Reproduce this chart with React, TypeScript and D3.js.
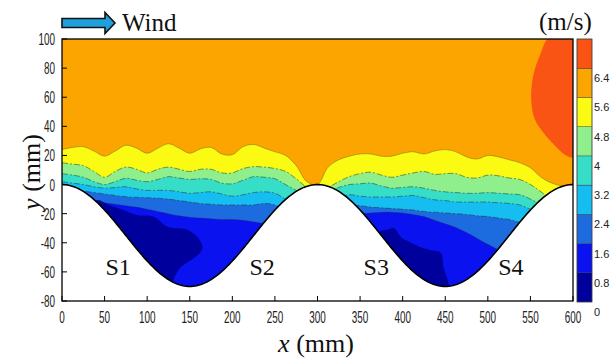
import React from 'react';
import * as d3 from 'd3';

// ---------- data ----------
const X_GRID = [0, 12.5, 25, 37.5, 50, 62.5, 75, 87.5, 100, 112.5, 125, 137.5, 150, 162.5, 175, 187.5, 200, 212.5, 225, 237.5, 250, 262.5, 275, 287.5, 300,
  312.5, 325, 337.5, 350, 362.5, 375, 387.5, 400, 412.5, 425, 437.5, 450, 462.5, 475, 487.5, 500, 512.5, 525, 537.5, 550, 562.5, 575, 587.5, 600];

// contour boundary heights (mm) at X_GRID for each speed level (m/s)
const LEVEL_5_6 = [24, 25.5, 26, 23, 19.5, 23, 27, 25, 21.5, 25, 28, 25, 21.5, 24.5, 25.5, 21, 20.5, 26, 27.5, 25, 22.5, 20, 13, 2, 0,
  12, 17, 19.5, 21, 21, 19.5, 19.5, 21.5, 22.5, 21, 23, 24, 22.5, 19, 17.5, 20, 19, 17, 15, 11.5, 5, 1, -1, -1];
const LEVEL_4_8 = [15, 14, 13, 9, 5, 9, 12, 10.5, 8, 10.5, 12, 10.5, 9, 10.5, 10.5, 8, 8, 11, 12.3, 12, 11, 9, 4, -2, -5,
  -2, 2, 5.5, 7.5, 8.5, 6.5, 5, 6.5, 8, 9, 7, 7.5, 7.5, 5, 4.5, 6.5, 6, 4.5, 3.5, 0, -5, -10, -10, -10];
const LEVEL_4_0 = [7.5, 6.5, 5, 2, 0, 2, 4.3, 3, 2, 3.5, 5.4, 4.5, 3.5, 4, 3.5, 1, 0.5, 3, 5.4, 5, 4, 0, -4, -8, -10,
  -6, -2, 0, 0.5, 1, -1, -2.5, -2, -1.5, -2.5, -4, -5, -5.5, -6, -6, -5.5, -6, -6.5, -7, -10, -14, -18, -18, -18];
const LEVEL_3_2 = [2, 1, 0, -1.5, -2.5, -2, -1.5, -3, -4, -4, -4, -5, -6, -5.5, -5, -6.5, -8, -7, -5.5, -5, -6, -10, -14, -18, -20,
  -14, -9, -7, -8, -8.5, -8.5, -8.5, -8, -7.5, -9, -10.5, -11, -12, -12, -12, -12, -12.5, -13, -14, -17, -20, -24, -24, -24];
const LEVEL_2_4 = [-3, -3.5, -4.5, -5.5, -6.5, -7.5, -8.3, -8.8, -9, -9.4, -10, -11, -12, -13, -13.5, -14, -14, -14, -14, -13, -14, -18, -22, -26, -28,
  -22, -17, -14, -14.5, -15.5, -16, -16.5, -17, -17.5, -18.5, -19, -19.5, -20, -20.5, -21.5, -22, -23, -24, -26, -28, -30, -32, -32, -32];
const LEVEL_1_6 = [-8, -9, -10, -11, -12.5, -13.5, -14.5, -15.5, -17, -18.5, -20, -21.5, -22.5, -23, -23.5, -24, -24, -24.5, -25.5, -27, -30, -33, -36, -38, -40,
  -30, -24, -21, -20, -19.5, -19, -19, -19.5, -20.5, -22, -24.5, -27, -29.5, -33, -37, -41, -45, -50, -55, -60, -60, -60, -60, -60];

// closed regions (x mm, y mm)
const LOW_S1: [number, number][] = [[40, -11], [55, -14], [72, -17.5], [88, -21], [107, -22], [124, -29], [147, -31], [159, -36], [165, -43],
  [162, -47], [151, -52], [139, -57], [131, -65.5], [128, -78], [40, -78]];
const LOW_S3: [number, number][] = [[372, -33], [382, -31], [390, -30], [398, -36], [410, -40], [421, -43], [433, -45], [445, -47], [448, -57],
  [453, -66], [455, -78], [370, -78]];
const HIGH_TOP: [number, number][] = [[572, 101], [562, 90], [553, 74], [551, 58], [555, 45], [566, 35], [580, 26], [592, 20], [601, 19], [601, 101]];

const LEVELS = ['0', '0.8', '1.6', '2.4', '3.2', '4', '4.8', '5.6', '6.4'];
const COLORS = ['#00009c', '#0a12f0', '#1c6ce0', '#16bdf0', '#36dec8', '#8eef8c', '#fafa12', '#fca400', '#fa5414'];

const X_TICKS = [0, 50, 100, 150, 200, 250, 300, 350, 400, 450, 500, 550, 600];
const Y_TICKS = [-80, -60, -40, -20, 0, 20, 40, 60, 80, 100];
const SLOPES = [{ label: 'S1', x: 66 }, { label: 'S2', x: 235 }, { label: 'S3', x: 369 }, { label: 'S4', x: 527 }];

// wavy surface geometry: two cosine troughs
const DEPTH = 70;
const WAVELENGTH = 300;
const surface = (x: number) => -DEPTH / 2 * (1 - Math.cos((2 * Math.PI * x) / WAVELENGTH));

export default function App() {
  const x = d3.scaleLinear().domain([0, 600]).range([62, 573]);
  const y = d3.scaleLinear().domain([-80, 100]).range([301, 39]);

  const sx = d3.range(0, 600.01, 2);
  const abovePath =
    'M' + sx.map((v) => `${x(v)},${y(surface(v))}`).join('L') + `L${x(600)},${y(100)}L${x(0)},${y(100)}Z`;
  const surfacePath = d3.line<number>().x((v) => x(v)).y((v) => y(surface(v)))(sx) || '';

  const bands: { data: number[]; color: string; dashed: boolean }[] = [
    { data: LEVEL_5_6, color: COLORS[6], dashed: false },
    { data: LEVEL_4_8, color: COLORS[5], dashed: true },
    { data: LEVEL_4_0, color: COLORS[4], dashed: true },
    { data: LEVEL_3_2, color: COLORS[3], dashed: true },
    { data: LEVEL_2_4, color: COLORS[2], dashed: true },
    { data: LEVEL_1_6, color: COLORS[1], dashed: false },
  ];
  const area = d3
    .area<number>()
    .x((_, i) => x(X_GRID[i]))
    .y0(y(-80))
    .y1((d) => y(d))
    .curve(d3.curveCatmullRom.alpha(0.5));
  const line = d3
    .line<number>()
    .x((_, i) => x(X_GRID[i]))
    .y((d) => y(d))
    .curve(d3.curveCatmullRom.alpha(0.5));
  const blob = d3
    .line<[number, number]>()
    .x((d) => x(d[0]))
    .y((d) => y(d[1]))
    .curve(d3.curveCatmullRomClosed.alpha(0.5));

  const cbX = 577;
  const cbW = 15;
  const cbTop = 39;
  const cbBot = 302;
  const seg = (cbBot - cbTop) / COLORS.length;

  const tickFont = "'Liberation Sans', Arial, sans-serif";
  const serif = "'Liberation Serif', 'Times New Roman', serif";

  return (
    <svg width={610} height={359} style={{ position: 'absolute', left: 0, top: 0, background: '#fff' }}>
      <defs>
        <clipPath id="above">
          <path d={abovePath} />
        </clipPath>
      </defs>
      <g clipPath="url(#above)">
        <rect x={x(0)} y={y(100)} width={x(600) - x(0)} height={y(-80) - y(100)} fill={COLORS[7]} />
        {bands.map((b, i) => (
          <path key={i} d={area(b.data) || ''} fill={b.color} />
        ))}
        <path d={blob(LOW_S1) || ''} fill={COLORS[0]} />
        <path d={blob(LOW_S3) || ''} fill={COLORS[0]} />
        <path d={blob(HIGH_TOP) || ''} fill={COLORS[8]} />
        {bands.map((b, i) => (
          <path
            key={'l' + i}
            d={line(b.data) || ''}
            fill="none"
            stroke="#2b3a2b"
            strokeOpacity={b.dashed ? 0.6 : 0.35}
            strokeWidth={0.9}
            strokeDasharray={b.dashed ? '6 2 2 2' : undefined}
          />
        ))}
      </g>
      <path d={surfacePath} fill="none" stroke="#000" strokeWidth={1.6} />
      {/* frame */}
      <rect x={x(0)} y={y(100)} width={x(600) - x(0)} height={y(-80) - y(100)} fill="none" stroke="#000" strokeWidth={1.3} />
      {X_TICKS.map((t) => (
        <g key={'xt' + t}>
          <line x1={x(t)} x2={x(t)} y1={y(-80)} y2={y(-80) - 5} stroke="#000" strokeWidth={1} />
          <text transform={`translate(${x(t)},${323}) scale(0.62,1)`} textAnchor="middle" fontFamily={tickFont} fontSize={16} fill="#222">
            {t}
          </text>
        </g>
      ))}
      {Y_TICKS.map((t) => (
        <g key={'yt' + t}>
          <line x1={x(0)} x2={x(0) + 5} y1={y(t)} y2={y(t)} stroke="#000" strokeWidth={1} />
          <text transform={`translate(55,${y(t) + 6}) scale(0.62,1)`} textAnchor="end" fontFamily={tickFont} fontSize={16} fill="#222">
            {t}
          </text>
        </g>
      ))}
      {SLOPES.map((s) => (
        <text key={s.label} x={x(s.x)} y={275} textAnchor="middle" fontFamily={serif} fontSize={24} fill="#111">
          {s.label}
        </text>
      ))}
      {/* colorbar */}
      {COLORS.map((c, i) => (
        <rect key={'cb' + i} x={cbX} y={cbBot - (i + 1) * seg} width={cbW} height={seg} fill={c} stroke="#333" strokeWidth={0.4} />
      ))}
      <rect x={cbX} y={cbTop} width={cbW} height={cbBot - cbTop} fill="none" stroke="#444" strokeWidth={0.6} />
      {LEVELS.map((l, i) => (
        <text key={'cl' + i} x={594} y={cbBot - i * seg + 14} fontFamily="'Liberation Sans', Arial, sans-serif" fontSize={11} fill="#222">
          {l}
        </text>
      ))}
      {/* wind arrow */}
      <path d="M62,18.5 L105,18.5 L105,12.5 L115,23 L105,33.5 L105,27.5 L62,27.5 Z" fill="#1ea0dc" stroke="#111" strokeWidth={1.6} />
      <text x={122} y={31} fontFamily={serif} fontSize={25} fill="#111">Wind</text>
      <text x={539} y={30} fontFamily={serif} fontSize={25} fill="#111">(m/s)</text>
      <text x={316} y={352} textAnchor="middle" fontFamily={serif} fontSize={26} fill="#111">
        <tspan fontStyle="italic">x</tspan> (mm)
      </text>
      <text transform="translate(40,172) rotate(-90)" textAnchor="middle" fontFamily={serif} fontSize={26} fill="#111">
        <tspan fontStyle="italic">y</tspan> (mm)
      </text>
    </svg>
  );
}
